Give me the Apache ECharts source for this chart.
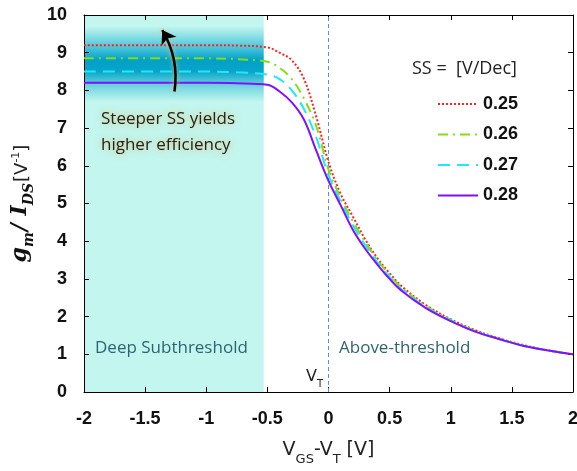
<!DOCTYPE html>
<html>
<head>
<meta charset="utf-8">
<script src="https://cdn.jsdelivr.net/npm/echarts@6/dist/echarts.min.js"></script>
<style>
  html, body { margin: 0; padding: 0; background: #fff; }
  #chart { width: 577px; height: 471px; }
</style>
</head>
<body>
<div id="chart"></div>
<script>
// V_GS - V_T sample points [V]
const vov = [-2, -1.5, -1, -0.75, -0.5, -0.4, -0.3, -0.2, -0.1, 0, 0.1, 0.2, 0.3, 0.4, 0.5, 0.6, 0.8, 1.0, 1.2, 1.4, 1.6, 1.8, 2.0];

// gm/IDS [1/V] for each subthreshold swing
const ss025 = [9.2, 9.2, 9.2, 9.19, 9.14, 9.0, 8.8, 8.3, 7.3, 6.1, 5.25, 4.65, 4.05, 3.55, 3.15, 2.8, 2.3, 1.93, 1.64, 1.42, 1.24, 1.1, 1.0];
const ss026 = [8.85, 8.85, 8.85, 8.83, 8.76, 8.6, 8.3, 7.78, 7.05, 5.9, 5.15, 4.52, 3.98, 3.5, 3.1, 2.76, 2.27, 1.91, 1.62, 1.41, 1.23, 1.1, 1.0];
const ss027 = [8.5, 8.5, 8.5, 8.48, 8.42, 8.3, 8.0, 7.5, 6.75, 5.75, 5.05, 4.42, 3.9, 3.44, 3.05, 2.72, 2.24, 1.9, 1.61, 1.4, 1.22, 1.1, 1.0];
const ss028 = [8.2, 8.2, 8.2, 8.19, 8.15, 7.97, 7.68, 7.22, 6.4, 5.6, 4.95, 4.3, 3.8, 3.38, 3.0, 2.68, 2.22, 1.88, 1.6, 1.4, 1.22, 1.1, 1.0];

const ssNames = ['0.25', '0.26', '0.27', '0.28'];
const ssColors = ['#ff2020', '#80e010', '#20e8f4', '#8010ff'];
const ssDash = ['dotted', [10, 5, 2, 5], [12, 7], 'solid'];

const subEdge = -0.53;         // end of deep-subthreshold shading
const arrowPts = [[-1.26, 7.97], [-1.36, 9.6]];

const chart = echarts.init(document.getElementById('chart'));

const tickFont = { color: '#111', fontSize: 18, fontWeight: 'bold', fontFamily: 'Liberation Sans, Arial' };
const frameLine = { show: true, onZero: false, lineStyle: { color: '#000', width: 1 } };
const inTick = { show: true, inside: true, length: 5, lineStyle: { color: '#000', width: 1 } };

const lineSeries = [ss025, ss026, ss027, ss028].map((vals, i) => ({
  name: ssNames[i],
  type: 'line',
  data: vov.map((x, k) => [x, vals[k]]),
  smooth: 0.35,
  symbol: 'none',
  showSymbol: false,
  z: 5,
  lineStyle: { color: ssColors[i], width: 2, type: ssDash[i] },
  itemStyle: { color: ssColors[i] }
}));

const option = {
  animation: false,
  grid: { left: 84, right: 4, top: 15, bottom: 79, outerBoundsMode: 'none', containLabel: false },
  xAxis: [{
    type: 'value', min: -2, max: 2, interval: 0.5, z: 4,
    name: '{n|V}{s|GS}{n|-V}{s|T}{n| [V]}',
    nameLocation: 'middle', nameGap: 44,
    nameTextStyle: {
      rich: {
        n: { fontSize: 19, color: '#222', fontFamily: 'DejaVu Sans', verticalAlign: 'bottom', lineHeight: 24 },
        s: { fontSize: 13, color: '#222', fontFamily: 'DejaVu Sans', verticalAlign: 'bottom', lineHeight: 16, padding: [0, 0, -6, 0] }
      }
    },
    axisLine: frameLine,
    axisTick: inTick,
    axisLabel: Object.assign({ margin: 18, formatter: v => String(v) }, tickFont),
    splitLine: { show: false }
  }, {
    type: 'value', min: -2, max: 2, interval: 0.5, position: 'top', z: 4,
    axisLine: frameLine,
    axisTick: inTick,
    axisLabel: { show: false }, splitLine: { show: false }
  }],
  yAxis: [{
    type: 'value', min: 0, max: 10, interval: 1, z: 4,
    name: '{g|g}{gs|m}{g|/ I}{gs|DS}{n|[V}{sp|-1}{n|]}',
    nameLocation: 'middle', nameGap: 43, nameRotate: 90,
    nameTextStyle: {
      rich: {
        g: { fontSize: 22, fontWeight: 'bold', fontStyle: 'italic', fontFamily: 'DejaVu Serif', color: '#111', verticalAlign: 'bottom', lineHeight: 26 },
        gs: { fontSize: 14, fontWeight: 'bold', fontStyle: 'italic', fontFamily: 'DejaVu Serif', color: '#111', verticalAlign: 'bottom', lineHeight: 16, padding: [0, 1, -5, 0] },
        n: { fontSize: 18, fontFamily: 'DejaVu Sans', color: '#222', verticalAlign: 'bottom', lineHeight: 23 },
        sp: { fontSize: 11, fontFamily: 'DejaVu Sans', color: '#222', verticalAlign: 'bottom', lineHeight: 12, padding: [0, 0, 9, 0] }
      }
    },
    axisLine: frameLine,
    axisTick: inTick,
    axisLabel: Object.assign({ margin: 17 }, tickFont),
    splitLine: { show: false }
  }, {
    type: 'value', min: 0, max: 10, interval: 1, position: 'right', z: 4,
    axisLine: frameLine,
    axisTick: inTick,
    axisLabel: { show: false }, splitLine: { show: false }
  }],
  legend: {
    data: ssNames,
    orient: 'vertical',
    left: 437, top: 95,
    padding: 0,
    itemWidth: 40, itemHeight: 14, itemGap: 12.5,
    itemStyle: { opacity: 0 },
    textStyle: { fontSize: 18, fontWeight: 'bold', color: '#111', fontFamily: 'Liberation Sans, Arial' }
  },
  series: [{
    name: 'regions',
    type: 'line',
    data: [],
    z: 1,
    markArea: {
      silent: true,
      data: [
        [{ coord: [-2, 0], itemStyle: { color: '#c2f6ee' } }, { coord: [subEdge, 10] }],
        [{
          coord: [-2, 7.7],
          itemStyle: {
            color: {
              type: 'linear', x: 0, y: 0, x2: 0, y2: 1,
              colorStops: [
                { offset: 0, color: 'rgba(0,168,205,0)' },
                { offset: 0.25, color: 'rgba(0,168,205,0.55)' },
                { offset: 0.45, color: 'rgba(0,160,200,1)' },
                { offset: 0.6, color: 'rgba(0,160,200,0.95)' },
                { offset: 0.78, color: 'rgba(0,168,205,0.45)' },
                { offset: 1, color: 'rgba(0,168,205,0)' }
              ]
            }
          }
        }, { coord: [subEdge, 9.7] }]
      ]
    },
    markLine: {
      silent: true,
      symbol: 'none',
      label: { show: false },
      lineStyle: { color: '#5b8fdc', type: [4, 3], width: 1 },
      data: [{ xAxis: 0 }]
    }
  },
  ...lineSeries,
  {
    name: 'arrow',
    type: 'lines',
    coordinateSystem: 'cartesian2d',
    z: 6,
    symbol: ['none', 'arrow'],
    symbolSize: 13,
    lineStyle: { color: '#000', opacity: 1, width: 2.5, curveness: -0.18, shadowColor: 'rgba(225,195,110,0.9)', shadowBlur: 5 },
    data: [{ coords: arrowPts }]
  }],
  graphic: [
    {
      type: 'text', left: 101, top: 106, z: 10,
      style: {
        text: 'Steeper SS yields\nhigher efficiency',
        font: '17px "Open Sans"', fill: '#222', lineHeight: 26,
        textShadowColor: 'rgba(230,185,90,1)', textShadowBlur: 7
      }
    },
    { type: 'text', left: 95, top: 340, z: 10, style: { text: 'Deep Subthreshold', font: '17px "Open Sans"', fill: '#2e6470' } },
    { type: 'text', left: 339, top: 340, z: 10, style: { text: 'Above-threshold', font: '17px "Open Sans"', fill: '#2e6470' } },
    {
      type: 'text', left: 306, top: 369, z: 10,
      style: {
        text: '{n|V}{s|T}',
        rich: {
          n: { fontSize: 16, fill: '#222', fontFamily: 'DejaVu Sans', verticalAlign: 'bottom', lineHeight: 20 },
          s: { fontSize: 10, fill: '#222', fontFamily: 'DejaVu Sans', verticalAlign: 'bottom', lineHeight: 12, padding: [0, 0, -4, 0] }
        }
      }
    },
    { type: 'text', left: 412, top: 60, z: 10, style: { text: 'SS =  [V/Dec]', font: '18px "Open Sans"', fill: '#222' } }
  ]
};

chart.setOption(option);
</script>
</body>
</html>
